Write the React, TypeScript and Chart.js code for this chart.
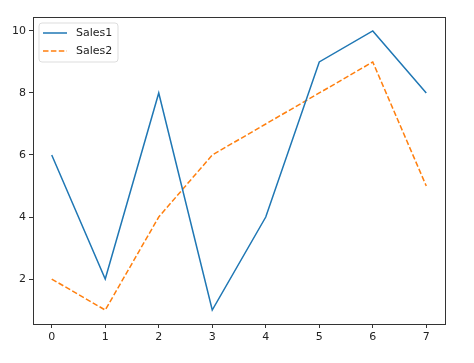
import React, { useEffect, useRef } from "react";
import { Chart, registerables } from "chart.js";

Chart.register(...registerables);

const categories = [0, 1, 2, 3, 4, 5, 6, 7];
const sales1 = [6, 2, 8, 1, 4, 9, 10, 8];
const sales2 = [2, 1, 4, 6, 7, 8, 9, 5];
const yTicks = [2, 4, 6, 8, 10];

const FONT = "'DejaVu Sans', sans-serif";

const framePlugin = {
  id: "frame",
  afterDraw(chart: any) {
    const { ctx, chartArea } = chart;
    ctx.save();
    ctx.strokeStyle = "#333333";
    ctx.lineWidth = 1;
    ctx.strokeRect(
      Math.round(chartArea.left) + 0.5,
      Math.round(chartArea.top) + 0.5,
      Math.round(chartArea.right - chartArea.left),
      Math.round(chartArea.bottom - chartArea.top)
    );
    // legend
    const x0 = chartArea.left + 6;
    const y0 = chartArea.top + 6;
    const w = 79;
    const h = 39;
    ctx.fillStyle = "rgba(255,255,255,0.8)";
    ctx.strokeStyle = "#dddddd";
    ctx.beginPath();
    const r = 3;
    ctx.moveTo(x0 + r, y0);
    ctx.arcTo(x0 + w, y0, x0 + w, y0 + h, r);
    ctx.arcTo(x0 + w, y0 + h, x0, y0 + h, r);
    ctx.arcTo(x0, y0 + h, x0, y0, r);
    ctx.arcTo(x0, y0, x0 + w, y0, r);
    ctx.closePath();
    ctx.fill();
    ctx.stroke();
    chart.data.datasets.forEach((ds: any, i: number) => {
      const ly = y0 + 10 + i * 18;
      ctx.strokeStyle = ds.borderColor;
      ctx.lineWidth = 1.5;
      ctx.setLineDash(ds.borderDash || []);
      ctx.beginPath();
      ctx.moveTo(x0 + 4, ly);
      ctx.lineTo(x0 + 28, ly);
      ctx.stroke();
      ctx.setLineDash([]);
      ctx.fillStyle = "#222222";
      ctx.font = "11px " + FONT;
      ctx.textBaseline = "middle";
      ctx.textAlign = "left";
      ctx.fillText(ds.label, x0 + 37, ly);
    });
    ctx.restore();
  },
};

export default function App() {
  const ref = useRef<HTMLCanvasElement>(null);
  useEffect(() => {
    document.body.style.margin = "0";
    const chart = new Chart(ref.current!, {
      type: "line",
      data: {
        labels: categories,
        datasets: [
          {
            label: "Sales1",
            data: categories.map((c, i) => ({ x: c, y: sales1[i] })),
            borderColor: "#1f77b4",
            borderWidth: 1.5,
            pointRadius: 0,
            tension: 0,
          },
          {
            label: "Sales2",
            data: categories.map((c, i) => ({ x: c, y: sales2[i] })),
            borderColor: "#ff7f0e",
            borderWidth: 1.5,
            borderDash: [5.5, 2.4],
            pointRadius: 0,
            tension: 0,
          },
        ],
      },
      options: {
        animation: false,
        responsive: false,
        layout: { padding: { top: 17, right: 29, left: 0, bottom: 0 } },
        plugins: { legend: { display: false }, tooltip: { enabled: false } },
        scales: {
          x: {
            type: "linear",
            min: -0.35,
            max: 7.35,
            afterBuildTicks: (s: any) => {
              s.ticks = categories.map((v) => ({ value: v }));
            },
            afterFit: (s: any) => {
              s.height = 363 - 324;
            },
            grid: { drawOnChartArea: false, drawTicks: true, tickLength: 4, color: "#333333" },
            border: { display: true, color: "#333333" },
            ticks: { color: "#222222", font: { family: FONT, size: 11 }, padding: 3, maxRotation: 0 },
          },
          y: {
            min: 0.55,
            max: 10.45,
            afterBuildTicks: (s: any) => {
              s.ticks = yTicks.map((v) => ({ value: v }));
            },
            afterFit: (s: any) => {
              s.width = 33;
            },
            grid: { drawOnChartArea: false, drawTicks: true, tickLength: 4, color: "#333333" },
            border: { display: true, color: "#333333" },
            ticks: { color: "#222222", font: { family: FONT, size: 11 }, padding: 3 },
          },
        },
      },
      plugins: [framePlugin],
    });
    return () => chart.destroy();
  }, []);
  return (
    <div style={{ width: 474, height: 363, background: "#fff" }}>
      <canvas ref={ref} width={474} height={363} style={{ display: "block" }} />
    </div>
  );
}
